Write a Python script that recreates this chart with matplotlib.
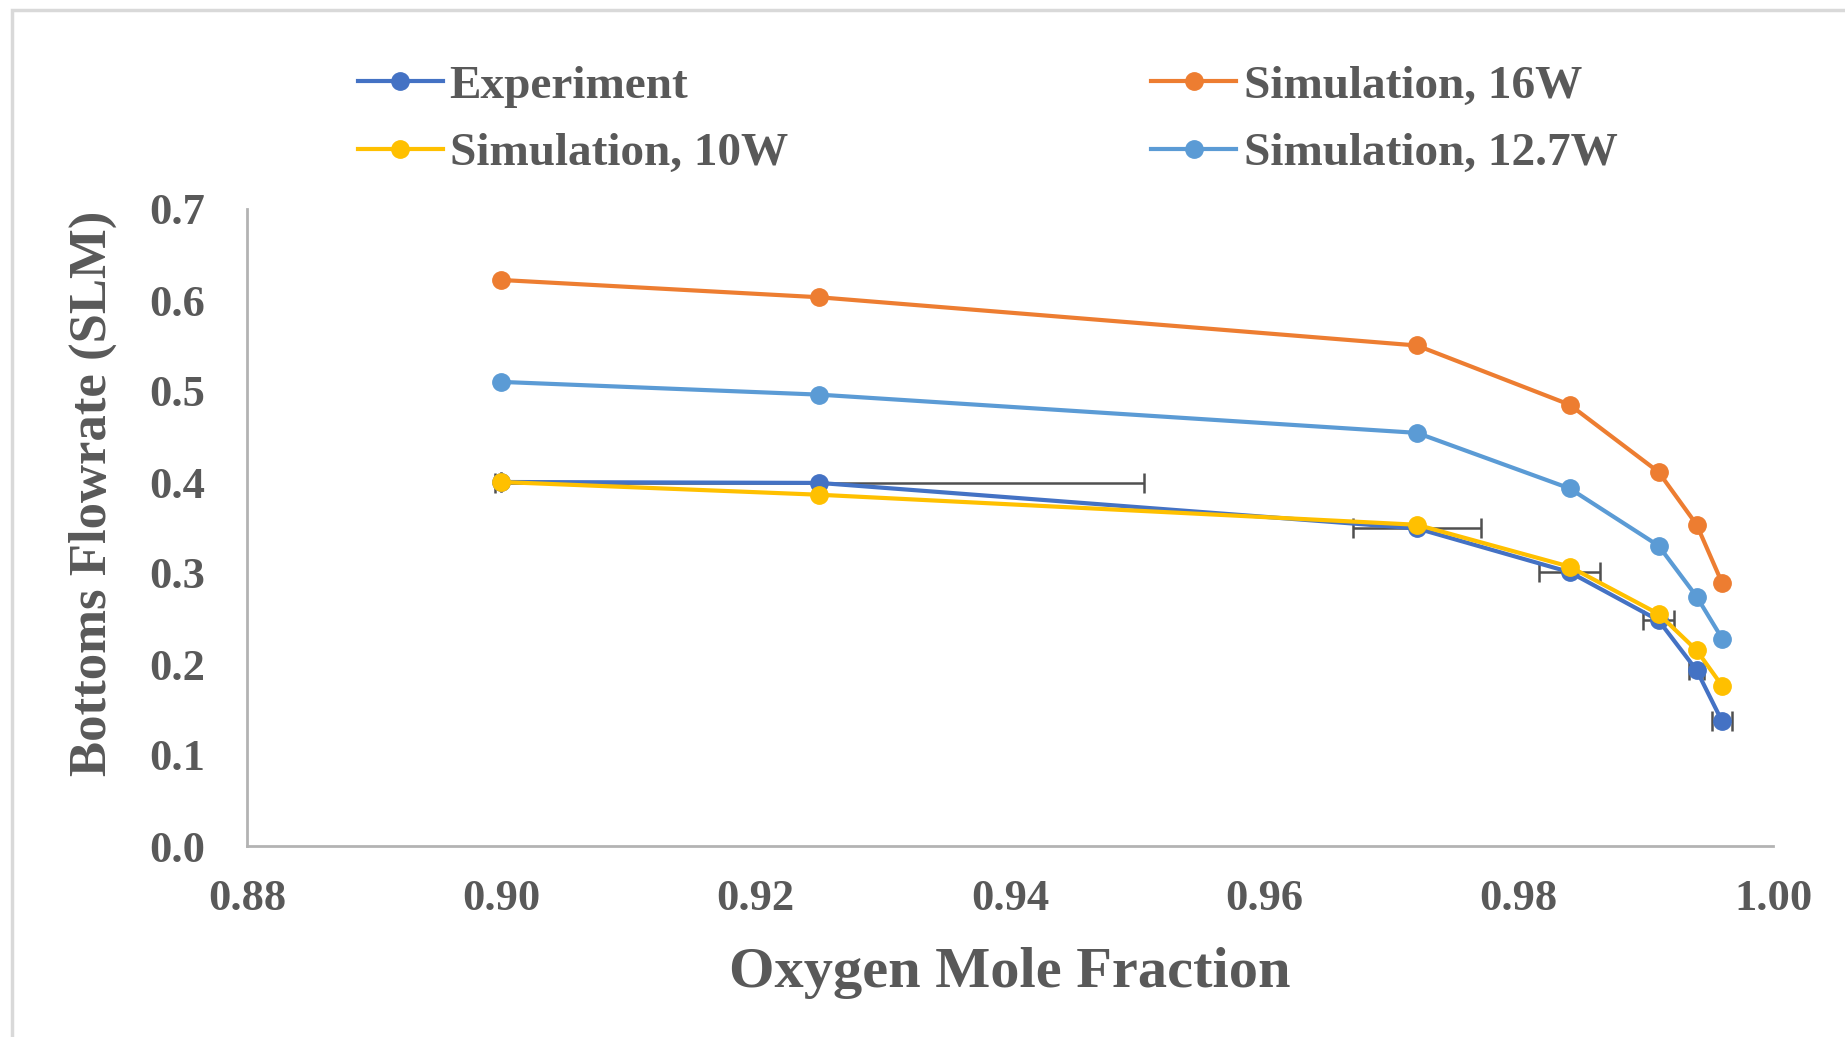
import matplotlib.pyplot as plt
from matplotlib.patches import Rectangle

# data
o2_frac = [0.900, 0.925, 0.972, 0.984, 0.991, 0.994, 0.996]
flow_exp = [0.400, 0.399, 0.349, 0.301, 0.248, 0.193, 0.137]
exp_xerr = [0.0, 0.0255, 0.005, 0.0024, 0.0012, 0.0006, 0.0008]
flow_16w = [0.622, 0.603, 0.550, 0.485, 0.411, 0.353, 0.289]
flow_127w = [0.510, 0.496, 0.454, 0.393, 0.330, 0.274, 0.228]
flow_10w = [0.400, 0.386, 0.353, 0.307, 0.255, 0.215, 0.176]

x_ticks = [0.88, 0.90, 0.92, 0.94, 0.96, 0.98, 1.00]
y_ticks = [0.0, 0.1, 0.2, 0.3, 0.4, 0.5, 0.6, 0.7]

TEXT = "#595959"
plt.rcParams['font.family'] = ['Liberation Serif', 'DejaVu Serif']
plt.rcParams['font.weight'] = 'bold'

W, H = 1845, 1037
fig = plt.figure(figsize=(W / 100, H / 100), dpi=100)
ax = fig.add_axes([247 / W, 1 - 846 / H, (1773 - 247) / W, (846 - 209) / H])

# chart area border
fig.patches.append(Rectangle((12 / W, -0.1), 1.2, 1 - 10 / H + 0.1,
                             transform=fig.transFigure, fill=False,
                             edgecolor="#d9d9d9", lw=2.5))

ms = 12.5
lw = 3.0
ax.errorbar(o2_frac, flow_exp, xerr=exp_xerr, fmt="none", ecolor="#505050",
            elinewidth=1.8, capsize=7, capthick=1.8, zorder=1)
l_exp, = ax.plot(o2_frac, flow_exp, color="#4472C4", marker="o", ms=ms, lw=lw, zorder=2,
                 label="Experiment")
l_16, = ax.plot(o2_frac, flow_16w, color="#ED7D31", marker="o", ms=ms, lw=lw, zorder=3,
                label="Simulation, 16W")
l_127, = ax.plot(o2_frac, flow_127w, color="#5B9BD5", marker="o", ms=ms, lw=lw, zorder=3,
                 label="Simulation, 12.7W")
l_10, = ax.plot(o2_frac, flow_10w, color="#FFC000", marker="o", ms=ms, lw=lw, zorder=4,
                label="Simulation, 10W")

ax.set_xlim(0.88, 1.00)
ax.set_ylim(0.0, 0.7)
ax.set_xticks(x_ticks)
ax.set_xticklabels([f"{t:.2f}" for t in x_ticks])
ax.set_yticks(y_ticks)
ax.set_yticklabels([f"{t:.1f}" for t in y_ticks])
ax.tick_params(length=0, labelsize=32, labelcolor=TEXT)
ax.tick_params(axis="y", pad=30)
ax.tick_params(axis="x", pad=24)

for s in ["top", "right"]:
    ax.spines[s].set_visible(False)
for s in ["left", "bottom"]:
    ax.spines[s].set_color("#b3b3b3")
    ax.spines[s].set_linewidth(2)

ax.set_xlabel("Oxygen Mole Fraction", fontsize=42, fontweight="bold", color=TEXT,
              labelpad=20)
ax.set_ylabel("Bottoms Flowrate (SLM)", fontsize=38, fontweight="bold", color=TEXT)
ax.yaxis.set_label_coords(-0.085, 0.553)

leg = fig.legend(handles=[l_exp, l_10, l_16, l_127], ncol=2, loc="upper left",
                 bbox_to_anchor=(315 / W, 1 - 22 / H), frameon=False, fontsize=34,
                 handlelength=1.8, handletextpad=0.15, columnspacing=7.7,
                 labelspacing=0.52)
for t in leg.get_texts():
    t.set_color(TEXT)

fig.savefig("out.png", dpi=100)
